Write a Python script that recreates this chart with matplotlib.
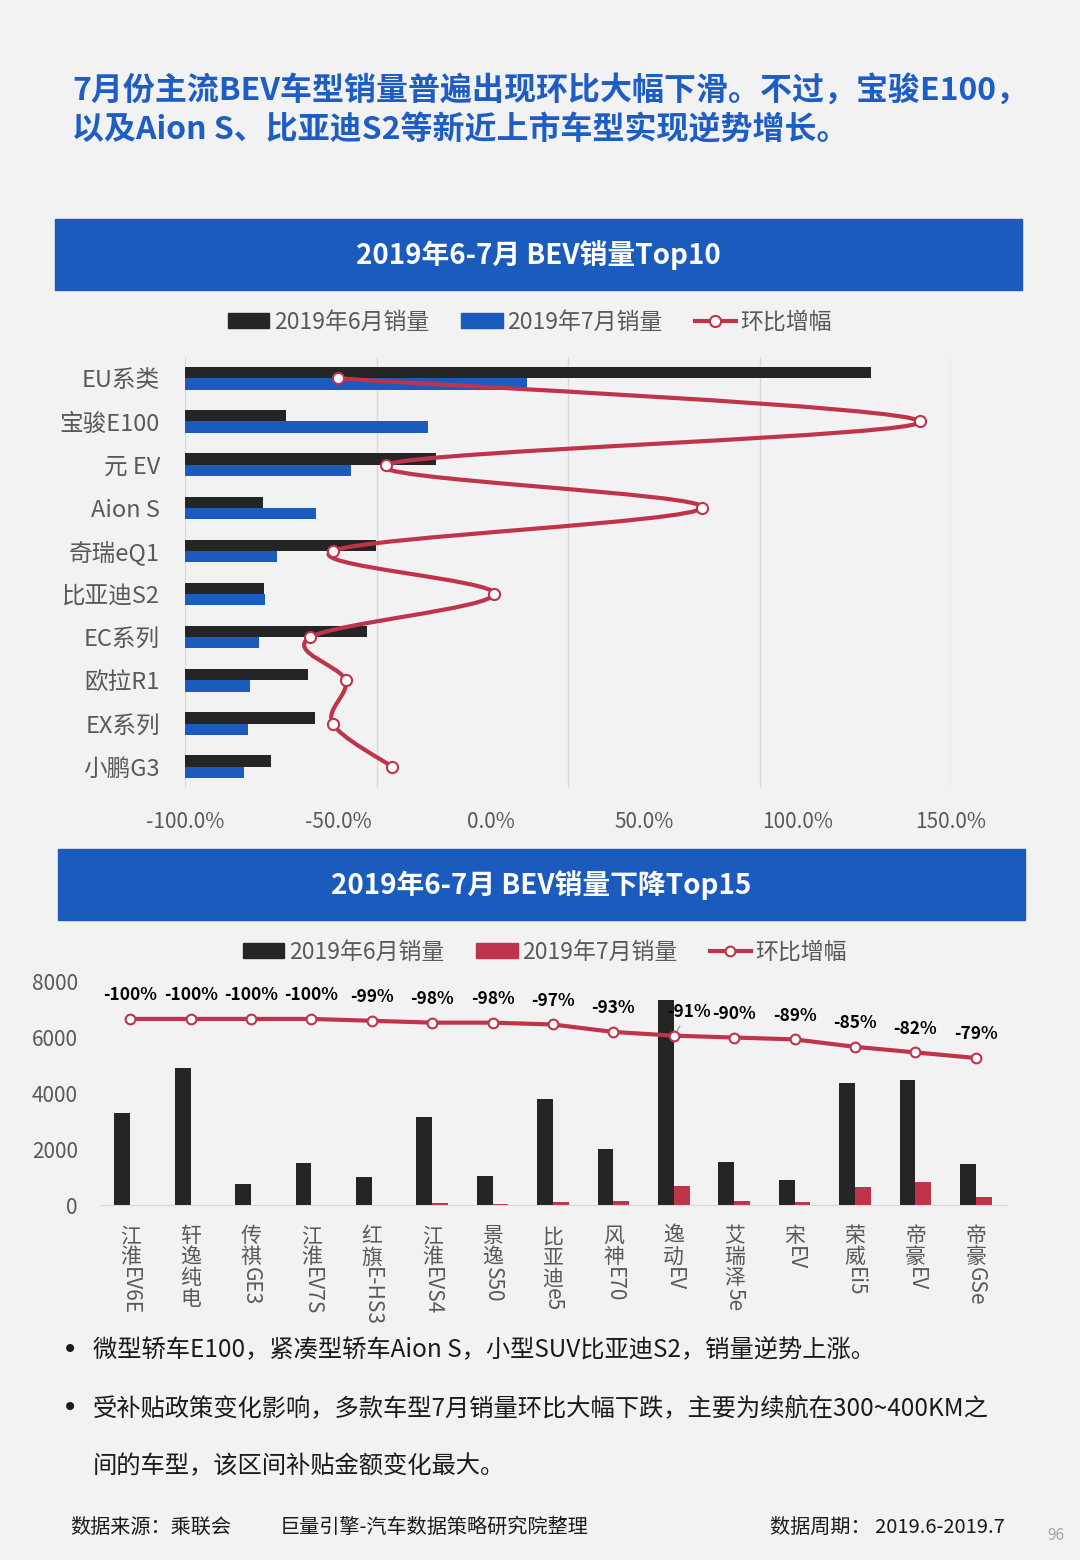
import re
import numpy as np
import matplotlib
matplotlib.use("Agg")
import matplotlib.pyplot as plt
from matplotlib.patches import Rectangle, Patch, PathPatch
from matplotlib.path import Path
from matplotlib.lines import Line2D
from matplotlib.ticker import PercentFormatter
from matplotlib.transforms import offset_copy

plt.rcParams["font.family"] = ["Noto Sans CJK SC", "DejaVu Sans"]
plt.rcParams["axes.unicode_minus"] = False

# ---- data: top chart (BEV sales Top10) ----
top_models = ["EU系类", "宝骏E100", "元 EV", "Aion S", "奇瑞eQ1",
              "比亚迪S2", "EC系列", "欧拉R1", "EX系列", "小鹏G3"]
top_june = [14330, 2110, 5240, 1620, 3980, 1650, 3800, 2560, 2710, 1800]
top_july = [7140, 5070, 3460, 2730, 1930, 1680, 1550, 1360, 1320, 1230]
top_growth = [-50.2, 139.8, -34.3, 68.8, -51.8, 0.9, -59.1, -47.6, -51.8, -32.4]

# ---- data: bottom chart (BEV sales decline Top15) ----
low_models = ["江淮EV6E", "轩逸纯电", "传祺GE3", "江淮EV7S", "红旗E-HS3",
              "江淮EVS4", "景逸S50", "比亚迪e5", "风神E70", "逸动EV",
              "艾瑞泽5e", "宋EV", "荣威Ei5", "帝豪EV", "帝豪GSe"]
low_june = [3300, 4920, 760, 1500, 990, 3140, 1040, 3800, 2000, 7340,
            1530, 900, 4370, 4470, 1460]
low_july = [0, 0, 0, 0, 10, 60, 20, 110, 140, 670, 150, 100, 650, 810, 290]
low_growth = [-100, -100, -100, -100, -99, -98, -98, -97, -93, -91,
              -90, -89, -85, -82, -79]

legend_labels = ["2019年6月销量", "2019年7月销量", "环比增幅"]

BG = "#f2f2f2"
BLACK = "#252525"
BLUE = "#1b5bbd"
RED = "#bf344b"
GRAY = "#595959"
W, H = 1080, 1560


def fx(px):
    return px / W


def fy(py):
    return 1 - py / H


fig = plt.figure(figsize=(10.8, 15.6), dpi=100, facecolor=BG)

# headline
fig.text(fx(72), fy(92), "7月份主流BEV车型销量普遍出现环比大幅下滑。不过，宝骏E100，",
         fontsize=23, fontweight="bold", color="#1e5ec4", va="center")
fig.text(fx(72), fy(130), "以及Aion S、比亚迪S2等新近上市车型实现逆势增长。",
         fontsize=23, fontweight="bold", color="#1e5ec4", va="center")

# banners
for (x0, y0, text) in [(55, 219, "2019年6-7月 BEV销量Top10"),
                       (58, 849, "2019年6-7月 BEV销量下降Top15")]:
    fig.add_artist(Rectangle((fx(x0), fy(y0 + 71)), 967 / W, 71 / H,
                             transform=fig.transFigure, color=BLUE, zorder=0))
    fig.text(fx(x0 + 483), fy(y0 + 36), text, fontsize=20, fontweight="bold",
             color="white", ha="center", va="center")

# ---------------- top chart ----------------
ax = fig.add_axes([fx(185), fy(788.3), 766 / W, 431.6 / H])
ax.set_facecolor("none")
y = np.arange(len(top_models))
ax.barh(y - 0.13, top_june, height=0.26, color=BLACK)
ax.barh(y + 0.13, top_july, height=0.26, color=BLUE)
ax.set_xlim(0, 16000)
ax.set_ylim(9.5, -0.5)
ax.set_xticks([0, 4000, 8000, 12000, 16000])
ax.xaxis.grid(True, color="#d9d9d9", lw=1)
ax.set_axisbelow(True)
ax.tick_params(axis="x", which="both", length=0, labelbottom=False)
ax.set_yticks(y)
ax.set_yticklabels(top_models, fontsize=17, color=GRAY)
ax.tick_params(axis="y", length=0, pad=18)
for s in ax.spines.values():
    s.set_visible(False)

ax2 = ax.twiny()
ax2.set_xlim(-100, 150)
ax2.xaxis.set_ticks_position("bottom")
ax2.set_xticks([-100, -50, 0, 50, 100, 150])
ax2.xaxis.set_major_formatter(PercentFormatter(xmax=100, decimals=1))
ax2.tick_params(axis="x", length=0, pad=16, labelsize=15, labelcolor=GRAY)
for s in ax2.spines.values():
    s.set_visible(False)

# smoothed line (Bezier through the points, like Excel's smoothed line)
pts = np.column_stack([top_growth, y])
n = len(pts)
verts = [pts[0]]
codes = [Path.MOVETO]
for i in range(n - 1):
    p_prev = pts[max(i - 1, 0)]
    p_next2 = pts[min(i + 2, n - 1)]
    c1 = pts[i] + (pts[i + 1] - p_prev) / 6
    c2 = pts[i + 1] - (p_next2 - pts[i]) / 6
    verts += [c1, c2, pts[i + 1]]
    codes += [Path.CURVE4] * 3
ax2.add_patch(PathPatch(Path(verts, codes), fill=False, ec=RED, lw=3, zorder=3))
ax2.plot(top_growth, y, linestyle="none", marker="o", ms=8, mfc="white",
         mec=RED, mew=1.5, zorder=4)

top_handles = [Patch(color=BLACK), Patch(color=BLUE),
               Line2D([], [], color=RED, lw=3, marker="o", ms=8,
                      mfc="white", mec=RED, mew=1.5)]
fig.legend(top_handles, legend_labels, loc="center",
           bbox_to_anchor=(fx(530), fy(322)), ncol=3, frameon=False,
           fontsize=16.5, labelcolor=GRAY, handlelength=1.8, handleheight=0.6,
           handletextpad=0.2, columnspacing=1.4)

# ---------------- bottom chart ----------------
bx = fig.add_axes([fx(100), fy(1205), 906 / W, 223.3 / H])
bx.set_facecolor("none")
x = np.arange(len(low_models))
bx.bar(x - 0.13, low_june, width=0.26, color=BLACK)
bx.bar(x + 0.13, low_july, width=0.26, color=RED)
bx.set_xlim(-0.5, len(low_models) - 0.5)
bx.set_ylim(0, 8000)
bx.set_yticks([0, 2000, 4000, 6000, 8000])
bx.tick_params(axis="y", length=0, pad=16, labelsize=15, labelcolor=GRAY)
bx.set_xticks([])
for k, s in bx.spines.items():
    s.set_visible(k == "bottom")
bx.spines["bottom"].set_color("#d9d9d9")

# vertical (stacked) category labels
renderer = fig.canvas.get_renderer()
for i, name in enumerate(low_models):
    offset = 14.5
    for run in re.findall(r"[\u4e00-\u9fff]|[^\u4e00-\u9fff]+", name):
        tr = offset_copy(bx.get_xaxis_transform(), fig=fig, x=0, y=-offset,
                         units="points")
        if re.match(r"[\u4e00-\u9fff]", run):
            bx.text(i, 0, run, transform=tr, ha="center", va="top",
                    fontsize=15, color=GRAY)
            offset += 15.2
        else:
            t = bx.text(i, 0, run, transform=tr, ha="center", va="top",
                        rotation=-90, fontsize=15, color=GRAY)
            offset += t.get_window_extent(renderer).height * 72 / fig.dpi

bx2 = bx.twinx()
bx2.set_ylim(0, -120)
bx2.axis("off")
bx2.plot(x, low_growth, color=RED, lw=3, marker="o", ms=7, mfc="white",
         mec=RED, mew=1.5, zorder=4)
for i, g in enumerate(low_growth):
    if low_models[i] == "逸动EV":
        bx2.annotate(f"{g}%", (i, g), xytext=(11, 17), textcoords="offset points",
                     ha="center", va="center", fontsize=12.5, fontweight="bold",
                     arrowprops=dict(arrowstyle="-", color="#8c8c8c", lw=0.8,
                                     shrinkA=2, shrinkB=4))
    else:
        bx2.annotate(f"{g}%", (i, g), xytext=(0, 17), textcoords="offset points",
                     ha="center", va="center", fontsize=12.5, fontweight="bold")

low_handles = [Patch(color=BLACK), Patch(color=RED),
               Line2D([], [], color=RED, lw=3, marker="o", ms=7,
                      mfc="white", mec=RED, mew=1.5)]
fig.legend(low_handles, legend_labels, loc="center",
           bbox_to_anchor=(fx(545), fy(952)), ncol=3, frameon=False,
           fontsize=16.5, labelcolor=GRAY, handlelength=1.8, handleheight=0.6,
           handletextpad=0.2, columnspacing=1.4)

# notes
notes = [
    (1350, "•", "微型轿车E100，紧凑型轿车Aion S，小型SUV比亚迪S2，销量逆势上涨。"),
    (1408, "•", "受补贴政策变化影响，多款车型7月销量环比大幅下跌，主要为续航在300~400KM之"),
    (1466, "", "间的车型，该区间补贴金额变化最大。"),
]
for yy, bullet, text in notes:
    if bullet:
        fig.text(fx(70), fy(yy), bullet, fontsize=20, color="#1a1a1a",
                 ha="center", va="center", family=["DejaVu Sans"])
    fig.text(fx(93), fy(yy), text, fontsize=17.5, color="#1a1a1a", va="center")

fig.text(fx(70), fy(1527), "数据来源：乘联会", fontsize=14.5, color="#1a1a1a",
         va="center")
fig.text(fx(280), fy(1527), "巨量引擎-汽车数据策略研究院整理", fontsize=14.5,
         color="#1a1a1a", va="center")
fig.text(fx(1005), fy(1527), "数据周期： 2019.6-2019.7", fontsize=14.5,
         color="#1a1a1a", va="center", ha="right")
fig.text(fx(1056), fy(1535), "96", fontsize=11, color="#a6a6a6",
         va="center", ha="center")

fig.savefig("out.png", dpi=100, facecolor=BG)
